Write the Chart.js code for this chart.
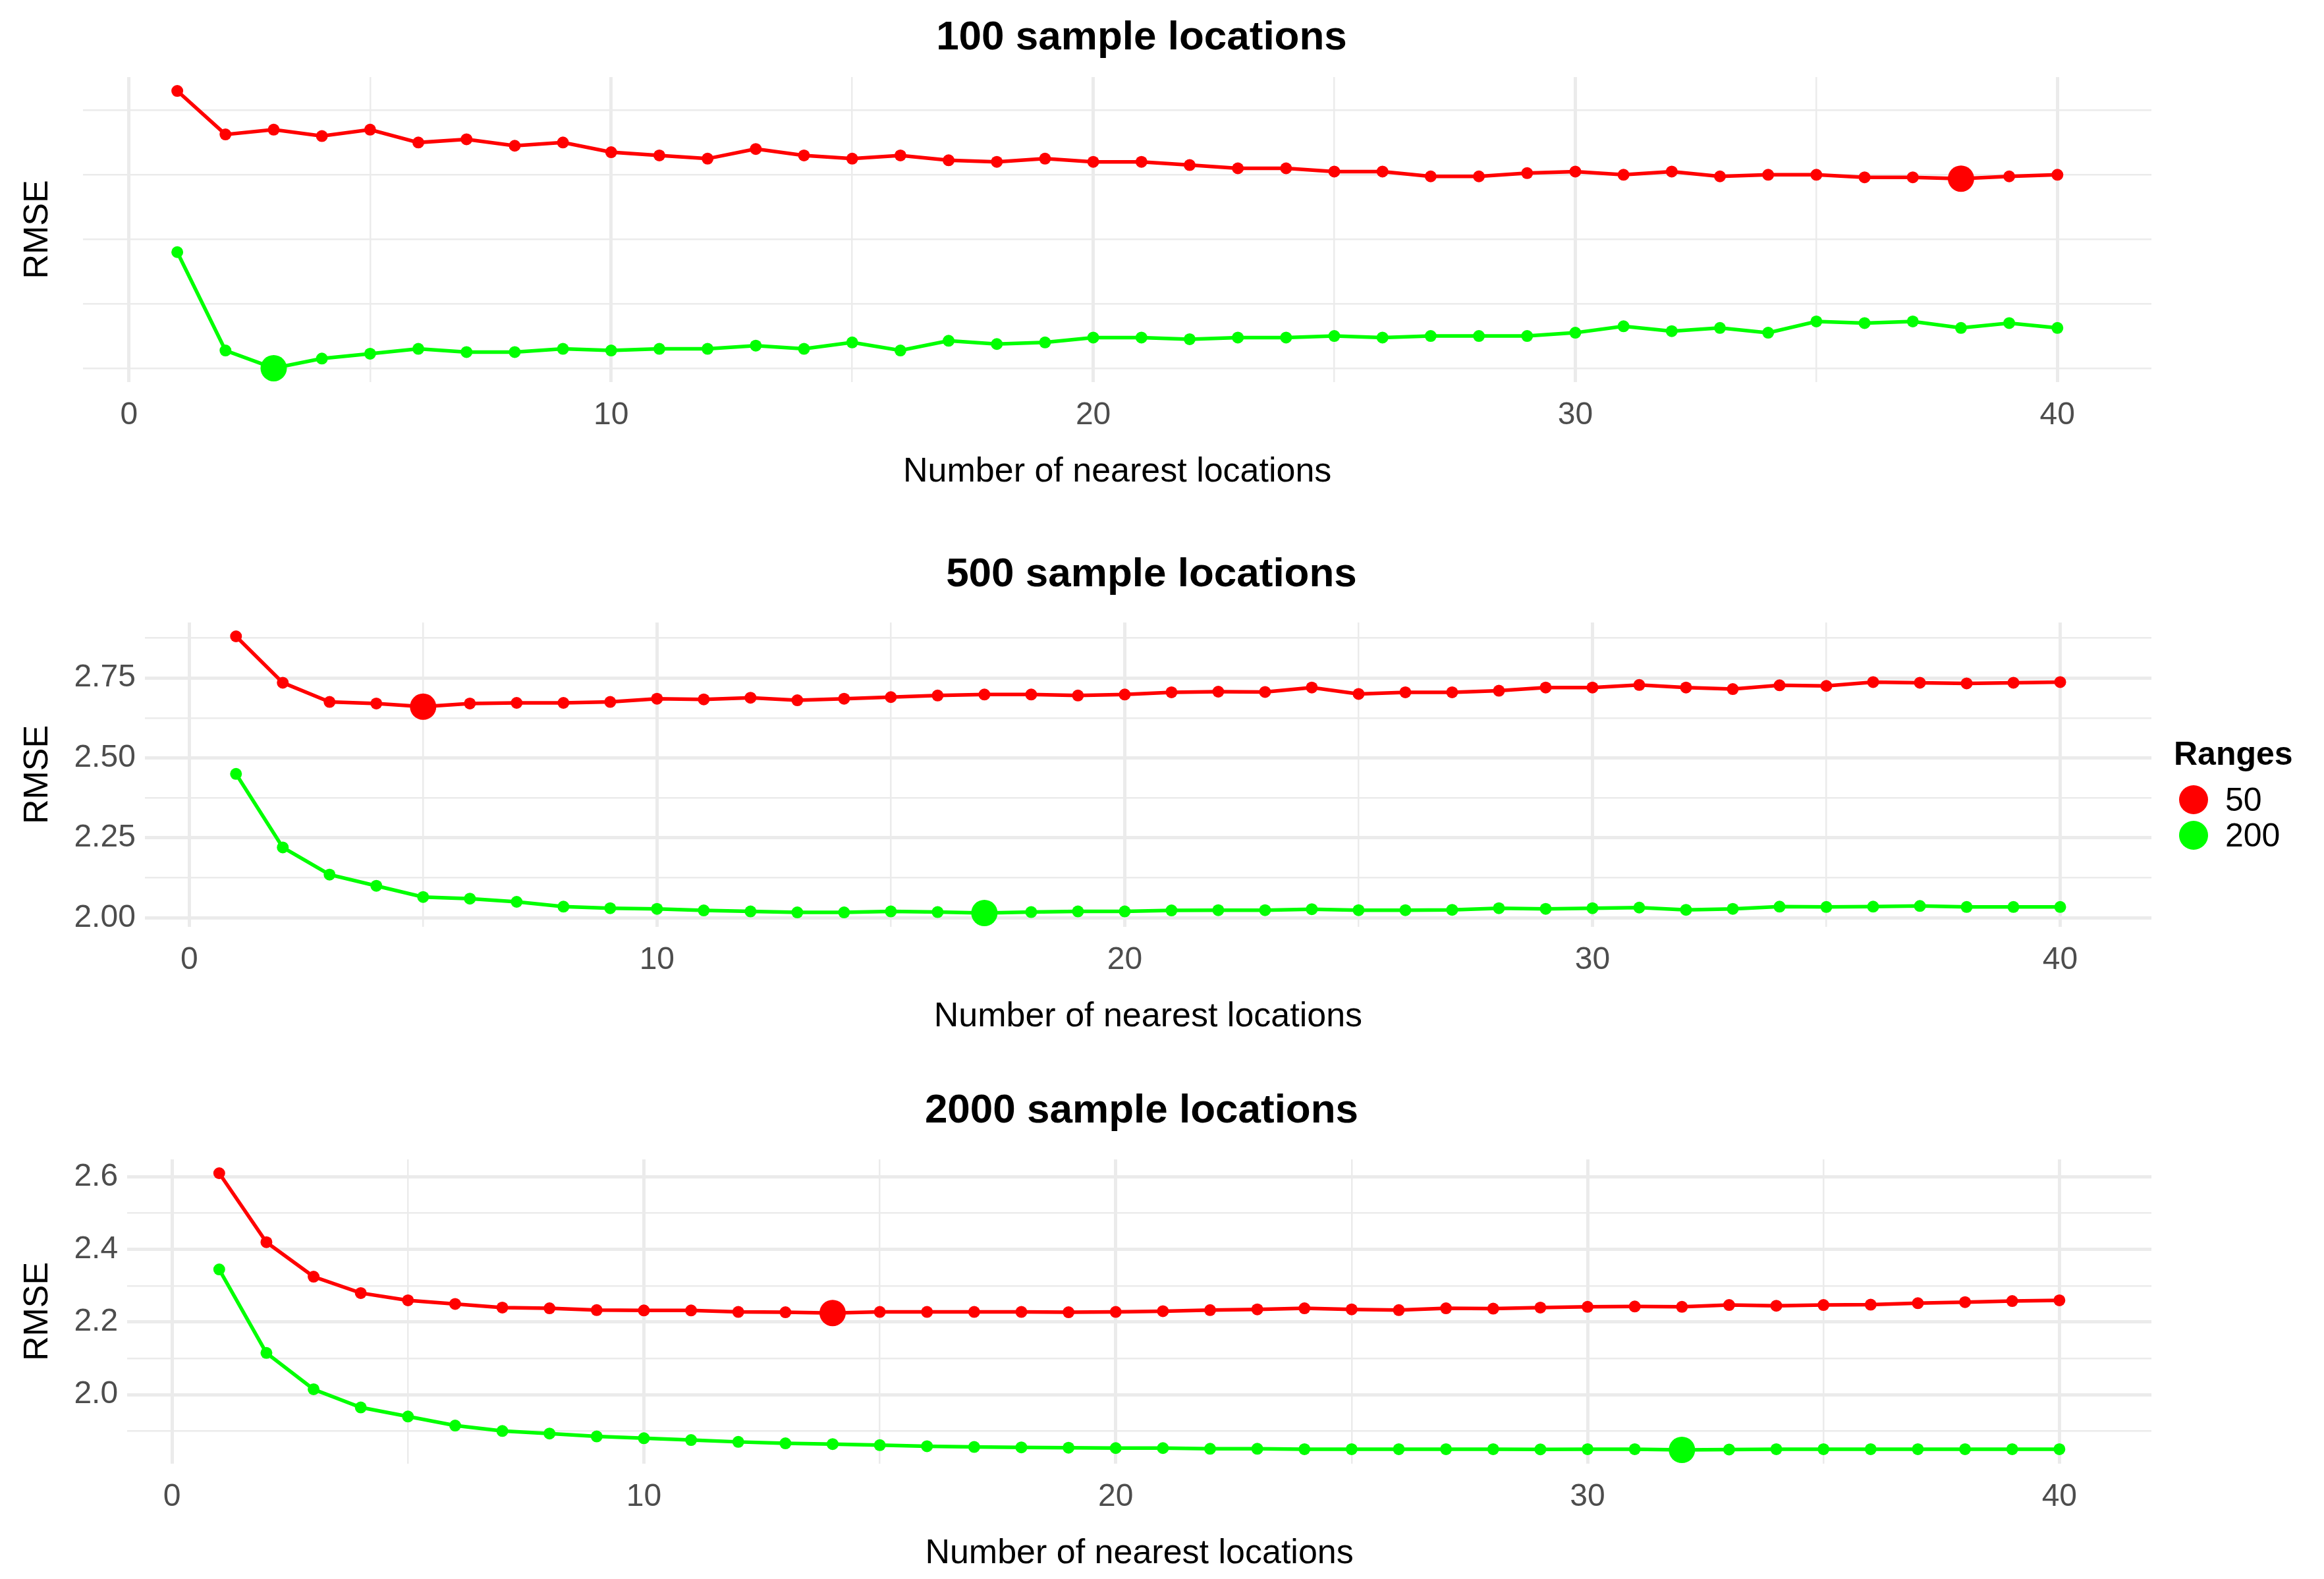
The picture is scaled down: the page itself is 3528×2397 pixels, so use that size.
<!DOCTYPE html>
<html>
<head>
<meta charset="utf-8">
<script src="https://cdn.jsdelivr.net/npm/chart.js@4"></script>
<style>
  body { margin: 0; background: #fff; font-family: "Liberation Sans", Arial, sans-serif; }
  .panel { position: absolute; left: 0; width: 3275px; }
  .ptitle { position: absolute; width: 1200px; text-align: center; font-weight: bold; font-size: 62px; color: #000; line-height: 70px; }
  #legend { position: absolute; left: 3300px; top: 1115px; font-size: 50px; color: #000; }
  #legend .ttl { font-weight: bold; margin-bottom: 14px; }
  #legend .row { display: flex; align-items: center; height: 54px; }
  #legend .dot { width: 44px; height: 44px; border-radius: 50%; margin: 0 26px 0 8px; }
</style>
</head>
<body>
<div class="panel" style="top:0px;height:760px"><canvas id="c100"></canvas></div>
<div class="panel" style="top:815px;height:772px"><canvas id="c500"></canvas></div>
<div class="panel" style="top:1630px;height:772px"><canvas id="c2000"></canvas></div>
<div class="ptitle" style="left:1133px;top:19px">100 sample locations</div>
<div class="ptitle" style="left:1148px;top:834px">500 sample locations</div>
<div class="ptitle" style="left:1133px;top:1648px">2000 sample locations</div>
<div id="legend">
  <div class="ttl">Ranges</div>
  <div class="row"><div class="dot" style="background:#ff0000"></div>50</div>
  <div class="row"><div class="dot" style="background:#00ff00"></div>200</div>
</div>
<script>
const neighbours = Array.from({length: 40}, (_, i) => i + 1);

const red100 = [3.36,3.225,3.24,3.22,3.24,3.20,3.21,3.19,3.20,3.17,3.16,3.15,3.18,3.16,3.15,3.16,3.145,3.14,3.15,3.14,
                3.14,3.13,3.12,3.12,3.11,3.11,3.095,3.095,3.105,3.11,3.10,3.11,3.095,3.10,3.10,3.092,3.092,3.088,3.095,3.10];
const green100 = [2.86,2.555,2.50,2.53,2.545,2.56,2.55,2.55,2.56,2.555,2.56,2.56,2.57,2.56,2.58,2.555,2.585,2.575,2.58,2.595,
                  2.595,2.59,2.595,2.595,2.60,2.595,2.60,2.60,2.60,2.61,2.63,2.615,2.625,2.61,2.645,2.64,2.645,2.625,2.64,2.625];

const red500 = [2.88,2.735,2.675,2.67,2.66,2.67,2.672,2.672,2.675,2.685,2.683,2.688,2.68,2.685,2.69,2.695,2.698,2.698,2.695,2.698,
                2.705,2.707,2.706,2.72,2.70,2.705,2.705,2.71,2.72,2.72,2.728,2.72,2.715,2.727,2.725,2.737,2.735,2.733,2.735,2.737];
const green500 = [2.45,2.22,2.135,2.10,2.065,2.06,2.05,2.035,2.03,2.028,2.023,2.02,2.017,2.017,2.02,2.018,2.015,2.018,2.02,2.02,
                  2.023,2.024,2.024,2.027,2.024,2.024,2.025,2.03,2.028,2.03,2.032,2.025,2.028,2.035,2.034,2.035,2.037,2.034,2.034,2.034];

const red2000 = [2.61,2.42,2.325,2.28,2.26,2.25,2.24,2.238,2.233,2.232,2.232,2.228,2.227,2.225,2.228,2.228,2.228,2.228,2.227,2.228,
                 2.23,2.233,2.235,2.238,2.235,2.233,2.238,2.237,2.24,2.242,2.243,2.242,2.247,2.245,2.247,2.248,2.252,2.255,2.258,2.26];
const green2000 = [2.345,2.115,2.015,1.965,1.94,1.915,1.90,1.893,1.885,1.88,1.875,1.87,1.866,1.864,1.861,1.858,1.856,1.855,1.854,1.853,
                   1.853,1.851,1.851,1.85,1.85,1.85,1.85,1.85,1.8495,1.85,1.85,1.848,1.849,1.85,1.85,1.85,1.85,1.85,1.85,1.85];

const xTicks = [0, 5, 10, 15, 20, 25, 30, 35, 40];

function series(values, color, label) {
    const minIdx = values.indexOf(Math.min(...values));
    return {
        label: label,
        data: values.map((v, i) => ({x: neighbours[i], y: v})),
        borderColor: color,
        backgroundColor: color,
        borderWidth: 5.5,
        pointRadius: values.map((v, i) => i === minIdx ? 20 : 9),
        pointBorderWidth: 0,
        tension: 0
    };
}

function makeChart(id, red, green, yMajor, yDigits, topPad) {
    const all = red.concat(green);
    const lo = Math.min(...all), hi = Math.max(...all);
    const pad = (hi - lo) * 0.05;
    const yMinor = yMajor / 2;
    const yTicks = [];
    for (let v = Math.ceil((lo - pad) / yMinor) * yMinor; v <= hi + pad + 1e-9; v += yMinor) {
        yTicks.push(Math.round(v * 1000) / 1000);
    }
    const isMajor = (v, step) => Math.abs(v / step - Math.round(v / step)) < 1e-6;

    new Chart(document.getElementById(id), {
        type: 'line',
        data: { datasets: [series(red, '#ff0000', '50'), series(green, '#00ff00', '200')] },
        options: {
            responsive: true,
            maintainAspectRatio: false,
            animation: false,
            devicePixelRatio: 1,
            layout: { padding: { left: 22, right: 0, top: topPad, bottom: 8 } },
            plugins: {
                legend: { display: false },
                tooltip: { enabled: false },
                title: { display: false }
            },
            scales: {
                x: {
                    type: 'linear', min: -0.95, max: 41.95,
                    afterBuildTicks: s => { s.ticks = xTicks.map(v => ({value: v})); },
                    ticks: {
                        color: '#4d4d4d', font: { family: 'Liberation Sans', size: 48 },
                        callback: v => isMajor(v, 10) ? v : '', maxRotation: 0, padding: 22
                    },
                    grid: {
                        color: '#ebebeb', drawTicks: false,
                        lineWidth: c => isMajor(c.tick.value, 10) ? 5 : 2.5
                    },
                    border: { display: false },
                    title: { display: true, text: 'Number of nearest locations', color: '#000',
                             font: { family: 'Liberation Sans', size: 52 }, padding: { top: 4 } }
                },
                y: {
                    type: 'linear', min: lo - pad, max: hi + pad,
                    afterBuildTicks: s => { s.ticks = yTicks.map(v => ({value: v})); },
                    ticks: {
                        color: '#4d4d4d', font: { family: 'Liberation Sans', size: 48 },
                        callback: v => isMajor(v, yMajor) ? v.toFixed(yDigits) : '', padding: 14
                    },
                    grid: {
                        color: '#ebebeb', drawTicks: false,
                        lineWidth: c => isMajor(c.tick.value, yMajor) ? 5 : 2.5
                    },
                    border: { display: false },
                    title: { display: true, text: 'RMSE', color: '#000',
                             font: { family: 'Liberation Sans', size: 52 }, padding: { bottom: 10 } }
                }
            }
        }
    });
}

makeChart('c100', red100, green100, 0.2, 1, 117);
makeChart('c500', red500, green500, 0.25, 2, 130);
makeChart('c2000', red2000, green2000, 0.2, 1, 130);
</script>
</body>
</html>
